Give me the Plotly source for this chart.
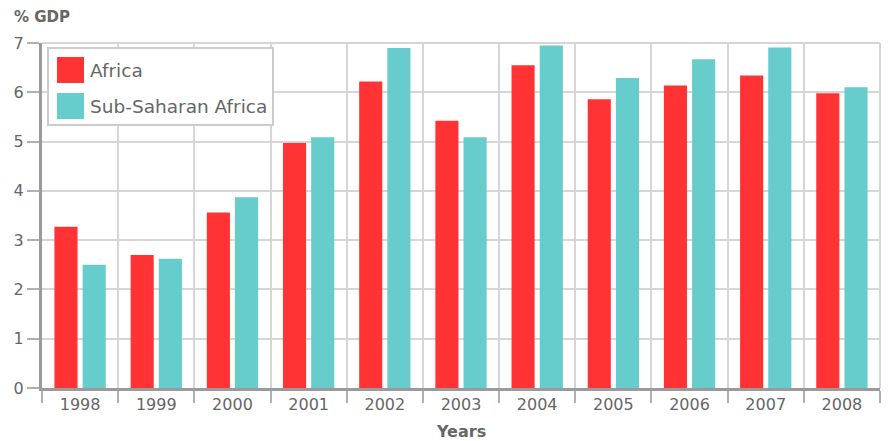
import plotly.graph_objects as go

years = ["1998", "1999", "2000", "2001", "2002", "2003", "2004", "2005", "2006", "2007", "2008"]
africa = [3.27, 2.70, 3.56, 4.97, 6.22, 5.42, 6.55, 5.86, 6.14, 6.34, 5.98]
ssa = [2.50, 2.62, 3.87, 5.09, 6.90, 5.09, 6.95, 6.29, 6.67, 6.91, 6.10]
series_names = ["Africa", "Sub-Saharan Africa"]
colors = ["#FF3333", "#66CCCC"]

FONT = "DejaVu Sans, Verdana, sans-serif"
GRAY = "#666666"
PW, PH = 838, 345

fig = go.Figure()
for name, vals, col in zip(series_names, [africa, ssa], colors):
    fig.add_trace(go.Bar(x=years, y=vals, name=name, marker=dict(color=col, line=dict(width=0)),
                         showlegend=False))

fig.update_layout(
    width=882, height=433,
    margin=dict(l=34, r=10, t=35, b=53, autoexpand=False),
    paper_bgcolor="white", plot_bgcolor="white",
    barmode="group", bargap=0.26, bargroupgap=0.18,
    font=dict(family=FONT, color=GRAY, size=16),
    xaxis=dict(type="category", tickson="boundaries", showgrid=True, gridcolor="#d6d6d6", gridwidth=2,
               ticks="outside", ticklen=12, tickwidth=2, tickcolor="#b0b0b0",
               showline=True, linecolor="#9a9a9a", linewidth=3, automargin=False,
               tickfont=dict(size=16, color=GRAY)),
    yaxis=dict(range=[0, 7], dtick=1, showgrid=True, gridcolor="#d6d6d6", gridwidth=2,
               ticks="outside", ticklen=12, tickwidth=2, tickcolor="#b0b0b0",
               showline=True, linecolor="#9a9a9a", linewidth=3, zeroline=False, automargin=False,
               tickfont=dict(size=16, color=GRAY)),
)

# top / right border lines matching grid
fig.add_shape(type="line", xref="paper", yref="paper", x0=0, x1=1, y0=1, y1=1,
              line=dict(color="#d6d6d6", width=2))
fig.add_shape(type="line", xref="paper", yref="paper", x0=1, x1=1, y0=0, y1=1,
              line=dict(color="#d6d6d6", width=2))

fig.add_annotation(text="<b>% GDP</b>", xref="paper", yref="paper", x=-30/PW, y=1 + 26/PH,
                   xanchor="left", yanchor="middle", showarrow=False,
                   font=dict(size=15, color=GRAY, family=FONT))
fig.add_annotation(text="<b>Years</b>", xref="paper", yref="paper", x=0.5, y=-43/PH,
                   xanchor="center", yanchor="middle", showarrow=False,
                   font=dict(size=16, color=GRAY, family=FONT))

# custom legend box
fig.add_shape(type="rect", xref="paper", yref="paper",
              x0=6/PW, x1=231/PW, y0=1 - 5/PH, y1=1 - 82/PH,
              line=dict(color="#cccccc", width=2), fillcolor="white", layer="above")
for i, (name, col) in enumerate(zip(series_names, colors)):
    yc = 1 - (27 + i * 36) / PH
    fig.add_shape(type="rect", xref="paper", yref="paper",
                  x0=15/PW, x1=42/PW, y0=yc - 13/PH, y1=yc + 13/PH,
                  line=dict(width=0), fillcolor=col, layer="above")
    fig.add_annotation(text=name, xref="paper", yref="paper", x=46/PW, y=yc,
                       xanchor="left", yanchor="middle", showarrow=False,
                       font=dict(size=18.5, color=GRAY, family=FONT))

fig.write_html("out.html")
